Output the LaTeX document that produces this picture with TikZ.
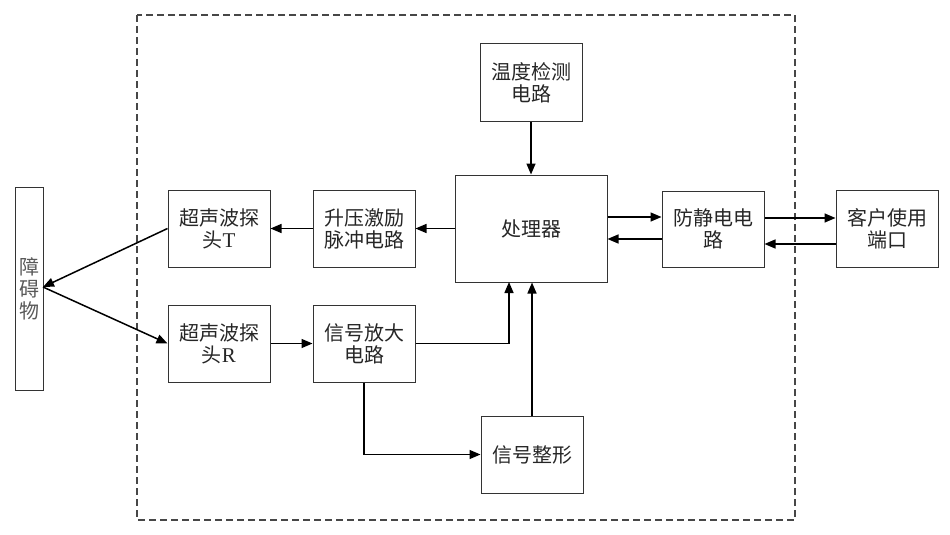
\documentclass[tikz,border=0pt]{standalone}
\usepackage{fontspec}
\setmainfont{Liberation Serif}
\newfontfamily\cjk{Noto Sans CJK SC}
\usetikzlibrary{arrows.meta}
\tikzset{
  blk/.style={draw=black!80, line width=1pt, rectangle, inner sep=0pt, align=center,
    font=\cjk\fontsize{20}{22}\selectfont, text=black!85},
  arr/.style={line width=1.5pt, -{Triangle[length=11pt,width=9pt]}},
  frame/.style={draw=black!72, line width=1.2pt, dash pattern=on 7pt off 4pt}
}
\begin{document}
\begin{tikzpicture}[x=1pt,y=-1pt]
\useasboundingbox (0,0) rectangle (950,535);
\draw[frame] (137,15) rectangle (795,520);

\node[blk, minimum width=28pt, minimum height=203pt, text=black!65] (obst) at (29,288.5) {障\\碍\\物};
\node[blk, minimum width=102pt, minimum height=77pt] (T) at (219,228.5) {超声波探\\头{\rmfamily\fontsize{21}{22}\selectfont T}};
\node[blk, minimum width=102pt, minimum height=77pt] (boost) at (364,228.5) {升压激励\\脉冲电路};
\node[blk, minimum width=152pt, minimum height=107pt] (proc) at (531,228.5) {处理器};
\node[blk, minimum width=102pt, minimum height=77pt] (temp) at (531,82.5) {温度检测\\电路};
\node[blk, minimum width=102pt, minimum height=76pt] (esd) at (713,229) {防静电电\\路};
\node[blk, minimum width=102pt, minimum height=77pt] (client) at (887,229) {客户使用\\端口};
\node[blk, minimum width=102pt, minimum height=77pt] (R) at (219,343.5) {超声波探\\头{\rmfamily\fontsize{21}{22}\selectfont R}};
\node[blk, minimum width=102pt, minimum height=77pt] (amp) at (364,343.5) {信号放大\\电路};
\node[blk, minimum width=102pt, minimum height=77pt] (shape) at (532,454.5) {信号整形};

\coordinate (hit) at (43,287);
\coordinate (ampin) at (509,282);

\draw[arr] (temp.south) -- (proc.north);
\draw[arr] (proc.west) -- (boost.east);
\draw[arr] (boost.west) -- (T.east);
\draw[arr] (T.west) -- (hit);
\draw[arr] (hit) -- (R.west);
\draw[arr] (R.east) -- (amp.west);
\draw[arr] (amp.east) -| (ampin);
\draw[arr] (shape.north) -- (shape.north |- proc.south);
\draw[arr] (amp.south) |- (shape.west);

\draw[arr] (proc.east |- 0,217) -- (esd.west |- 0,217);
\draw[arr] (esd.west |- 0,239) -- (proc.east |- 0,239);
\draw[arr] (esd.east |- 0,218) -- (client.west |- 0,218);
\draw[arr] (client.west |- 0,244) -- (esd.east |- 0,244);
\end{tikzpicture}
\end{document}
